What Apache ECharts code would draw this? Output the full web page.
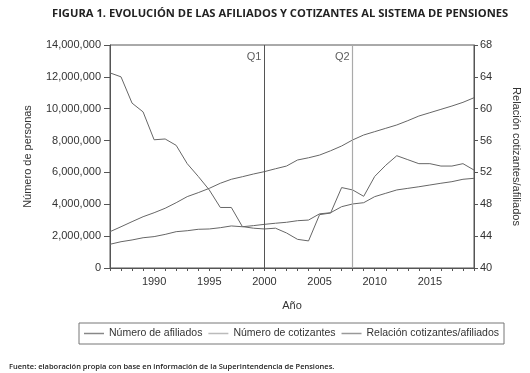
<!DOCTYPE html>
<html>
<head>
<meta charset="utf-8">
<script src="https://cdn.jsdelivr.net/npm/echarts@6/dist/echarts.min.js"></script>
<style>html,body{margin:0;padding:0;background:#fff}#c{width:530px;height:373px}</style>
</head>
<body>
<div id="c"></div>
<script>
var years = [1986,1987,1988,1989,1990,1991,1992,1993,1994,1995,1996,1997,1998,1999,2000,2001,2002,2003,2004,2005,2006,2007,2008,2009,2010,2011,2012,2013,2014,2015,2016,2017,2018,2019];
var afiliados = [2280000,2590000,2910000,3220000,3470000,3750000,4100000,4480000,4730000,5000000,5320000,5570000,5730000,5900000,6050000,6230000,6400000,6780000,6920000,7090000,7360000,7660000,8040000,8350000,8560000,8770000,8980000,9250000,9540000,9750000,9960000,10170000,10400000,10690000];
var cotizantes = [1490000,1650000,1760000,1900000,1970000,2110000,2280000,2340000,2430000,2450000,2530000,2640000,2590000,2660000,2740000,2810000,2870000,2970000,3010000,3400000,3470000,3850000,4020000,4100000,4480000,4690000,4900000,5000000,5100000,5210000,5320000,5420000,5570000,5630000];
var relacion = [64.5,64.0,60.7,59.6,56.1,56.2,55.4,53.1,51.5,49.8,47.6,47.6,45.2,45.0,44.9,45.0,44.4,43.6,43.4,46.7,46.9,50.1,49.8,49.0,51.5,52.9,54.1,53.6,53.1,53.1,52.8,52.8,53.1,52.3];
var leftTicks = [0,14000000,2000000];
var rightTicks = [40,68,4];
var marks = [[2000,'Q1'],[2008,'Q2']];

var chart = echarts.init(document.getElementById('c'));
var txt = '#333';
var font = 'Liberation Sans, Arial, sans-serif';
function zip(a){return years.map(function(y,i){return [y,a[i]];});}
chart.setOption({
  animation:false,
  textStyle:{fontFamily:font},
  title:[
    {text:'FIGURA 1. EVOLUCIÓN DE LAS AFILIADOS Y COTIZANTES AL SISTEMA DE PENSIONES',left:47,top:3,
     textStyle:{fontFamily:'Open Sans',fontWeight:'bold',fontSize:11.2,color:'#222'}},
    {text:'Fuente: elaboración propia con base en información de la Superintendencia de Pensiones.',left:4,top:358,
     textStyle:{fontFamily:'Open Sans',fontWeight:600,fontSize:7.5,color:'#222'}}
  ],
  grid:{left:110,right:50,top:45,bottom:105,show:true,borderColor:'#555',borderWidth:1},
  legend:{left:79,top:323,itemWidth:20,itemHeight:1.5,itemGap:6,padding:[5,5,5,5],icon:'rect',
    borderColor:'#777',borderWidth:1,
    textStyle:{fontFamily:font,fontSize:10.5,color:txt},
    data:[
      {name:'Número de afiliados',itemStyle:{color:'#888'}},
      {name:'Número de cotizantes',itemStyle:{color:'#bbb'}},
      {name:'Relación cotizantes/afiliados',itemStyle:{color:'#999'}}
    ]},
  xAxis:{type:'value',min:years[0],max:years[years.length-1],interval:1,
    name:'Año',nameLocation:'middle',nameGap:32,nameTextStyle:{fontFamily:font,fontSize:11,color:txt},
    axisLine:{lineStyle:{color:'#555'}},
    axisTick:{show:true,length:3,inside:false,lineStyle:{color:'#555'}},
    splitLine:{show:false},
    axisLabel:{fontSize:11,color:txt,margin:8,formatter:function(v){return v%5===0?String(v):'';}}},
  yAxis:[
    {type:'value',min:leftTicks[0],max:leftTicks[1],interval:leftTicks[2],
     name:'Número de personas',nameLocation:'middle',nameRotate:90,nameGap:77,
     nameTextStyle:{fontFamily:font,fontSize:11,color:txt},
     axisLine:{show:true,lineStyle:{color:'#555'}},axisTick:{show:true,length:6,lineStyle:{color:'#555'}},
     splitLine:{show:false},
     axisLabel:{fontSize:11,color:txt,margin:9,formatter:function(v){return v.toLocaleString('en-US');}}},
    {type:'value',min:rightTicks[0],max:rightTicks[1],interval:rightTicks[2],position:'right',
     name:'Relación cotizantes/afiliados',nameLocation:'middle',nameRotate:-90,nameGap:37,
     nameTextStyle:{fontFamily:font,fontSize:11,color:txt},
     axisLine:{show:true,lineStyle:{color:'#555'}},axisTick:{show:true,length:4,lineStyle:{color:'#555'}},
     splitLine:{show:false},
     axisLabel:{fontSize:11,color:txt,margin:6}}
  ],
  series:[
    {name:'Número de afiliados',type:'line',data:zip(afiliados),symbol:'none',color:'#888',
     lineStyle:{color:'#666',width:1},
     markLine:{silent:true,symbol:'none',label:{show:false},
       data:[{xAxis:marks[0][0],lineStyle:{color:'#555',width:1,type:'solid'}},
             {xAxis:marks[1][0],lineStyle:{color:'#aaa',width:1.2,type:'solid'}}]}},
    {name:'Número de cotizantes',type:'line',data:zip(cotizantes),symbol:'none',color:'#bbb',
     lineStyle:{color:'#666',width:1}},
    {name:'Relación cotizantes/afiliados',type:'line',yAxisIndex:1,data:zip(relacion),symbol:'none',color:'#999',
     lineStyle:{color:'#666',width:1}},
    {name:'marks',type:'scatter',symbolSize:0,silent:true,
     data:marks.map(function(m){return {value:[m[0],13250000],label:{formatter:m[1]}};}),
     label:{show:true,position:'left',distance:3,fontSize:11,color:txt,fontFamily:font}}
  ]
});
</script>
</body>
</html>
